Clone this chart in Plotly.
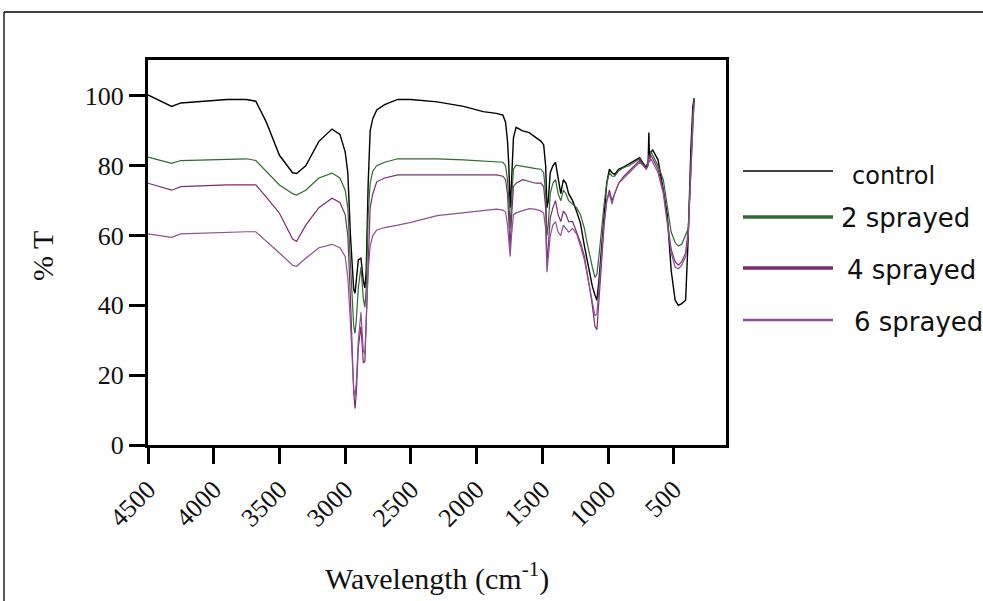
import plotly.graph_objects as go

# ---------------- data ----------------
wavenumber = [4500, 4400, 4320, 4250, 4100, 3900, 3750, 3680, 3600, 3500, 3400, 3370, 3300, 3200, 3100,
              3040, 3000, 2980, 2960, 2945, 2935, 2925, 2915, 2900, 2880, 2862, 2850, 2840, 2825, 2810,
              2790, 2760, 2700, 2600, 2500, 2300, 2100, 1950, 1850, 1800, 1780, 1765, 1755, 1745, 1735,
              1720, 1700, 1650, 1600, 1550, 1510, 1490, 1475, 1465, 1455, 1440, 1420, 1400, 1380, 1360,
              1340, 1320, 1300, 1270, 1240, 1210, 1180, 1160, 1140, 1120, 1100, 1085, 1070, 1050, 1030,
              1010, 990, 970, 950, 920, 880, 840, 800, 760, 730, 710, 695, 690, 685, 675, 660, 620, 580,
              550, 520, 490, 465, 440, 410, 390, 370, 355, 345]

control = [100.3, 98.5, 97, 98, 98.5, 99, 99, 98.5, 92.5, 83, 78, 77.8, 80, 87, 90.5,
           89, 84, 78, 60, 48, 44.5, 43.5, 47, 53, 53.5, 47, 45, 50, 75, 90,
           93.5, 96, 97.5, 99, 99, 98.3, 97, 95.5, 95, 94.5, 92.5, 87, 80, 68, 75,
           88, 91, 90, 89.5, 88, 87, 86, 80, 68, 70, 78, 80, 81, 76, 72,
           76, 75, 72, 70, 67, 63.5, 57, 53, 49, 45.5, 43, 41.5, 47, 56, 66,
           75, 79, 78, 77.5, 79, 79.7, 80.5, 81.5, 82.3, 80.5, 79.5, 81, 89.5, 82, 84, 84.5, 81.7, 73,
           66, 50, 41.5, 40, 40.5, 41.5, 60, 85, 97, 99.4]

sprayed_2 = [82.5, 81.5, 80.7, 81.5, 81.7, 82, 82, 81.5, 78.5, 74.5, 72, 71.6, 73, 76.5, 77.9,
             76.5, 73, 68, 52, 40, 34, 32, 36, 45, 51, 42, 39.5, 45, 66, 75,
             78.5, 80, 81, 82, 82, 82, 81.7, 81.3, 81.2, 81, 80, 76, 70, 62, 70,
             79, 80.2, 79.8, 79.5, 79.2, 79, 78, 72, 60, 63, 72, 75, 76, 72, 70,
             73, 72, 70, 69, 68, 66, 62, 58, 54, 51, 48, 49, 54, 62, 69,
             75, 78, 77, 77, 78.5, 79.5, 80, 81, 82, 80, 80, 81, 83, 82, 84, 83, 80, 76,
             68, 61, 58, 57, 57.5, 60, 62, 80, 95, 99]

sprayed_4 = [75, 74, 73, 74, 74.3, 74.5, 74.5, 74.5, 71, 66.4, 59, 58.3, 63, 68, 70.7,
             69.5, 66, 60, 42, 25, 15, 10.5, 15, 28, 34, 23.5, 24, 35, 55, 68,
             72, 75.4, 76.5, 77.4, 77.4, 77.4, 77.4, 77.4, 77.4, 77, 76, 72, 65, 56, 65,
             74, 75, 76, 75.5, 75, 75, 74, 68, 52, 57, 65, 68, 70, 66, 64,
             67, 66, 64, 64, 61, 58, 54, 50, 45, 40, 34, 33, 42, 54, 63,
             70, 73, 70, 72, 75, 77, 78.5, 80, 81.5, 80, 79, 80.5, 83, 82, 83, 82, 79, 73,
             64, 56, 52.5, 51.5, 52.5, 55, 62, 80, 94, 99]

sprayed_6 = [60.5, 60, 59.5, 60.5, 60.7, 61.1, 61.1, 61.1, 58.5, 55, 51.5, 51.2, 53.5, 56.5, 57.5,
             56.5, 54, 48, 35, 22, 16, 14, 18, 30, 38, 27, 26, 36, 50, 57,
             60, 61.6, 62.3, 63, 63.8, 65.7, 66.5, 67.2, 67.6, 67.3, 66.8, 63, 59, 54, 60,
             66, 66.5, 67, 67.7, 67.5, 67, 66.4, 62, 49.5, 54, 60, 63, 64, 61, 60,
             63, 62, 61, 62, 60.5, 57, 53, 49, 45, 41, 37, 37.5, 45, 56, 64,
             70, 72, 69, 72, 75, 76.5, 78, 79.5, 81, 80, 79, 80, 82, 81, 82, 81, 78, 72,
             63, 55, 51, 50.5, 51.5, 54, 60, 80, 93, 98]

series_names = ["control", "2 sprayed", "4 sprayed", "6 sprayed"]
series_values = [control, sprayed_2, sprayed_4, sprayed_6]

x_ticks = [4500, 4000, 3500, 3000, 2500, 2000, 1500, 1000, 500]
y_ticks = [0, 20, 40, 60, 80, 100]

# ---------------- styles ----------------
colors = ["#000000", "#2f6a2f", "#7a2c6c", "#8e4f94"]
widths = [1.4, 1.2, 1.2, 1.2]
legend_widths = [1.6, 3.4, 3.4, 2.4]

W, H = 983, 601
L, R, T, B = 148, 726, 60, 445   # plot area in pixels


def px(xp):
    return (xp - L) / (R - L)


def py(yp):
    return (B - yp) / (B - T)


fig = go.Figure()
for name, vals, c, w in zip(series_names, series_values, colors, widths):
    fig.add_trace(go.Scatter(x=wavenumber, y=vals, mode="lines", name=name,
                             line=dict(color=c, width=w), showlegend=False))

shapes = []
annotations = []

# custom legend
leg_line_y = [171, 217, 268, 320]
leg_text_x = [850, 839, 845, 852]
leg_text_y = [176, 218, 270, 322]
for i, name in enumerate(series_names):
    shapes.append(dict(type="line", xref="paper", yref="paper",
                       x0=px(743), x1=px(833), y0=py(leg_line_y[i]), y1=py(leg_line_y[i]),
                       line=dict(color=colors[i], width=legend_widths[i])))
    annotations.append(dict(text=name, xref="paper", yref="paper",
                            x=px(leg_text_x[i]), y=py(leg_text_y[i]),
                            xanchor="left", yanchor="middle", showarrow=False,
                            font=dict(family="DejaVu Sans", size=26 if i else 24, color="#111111")))

# outer frame
shapes.append(dict(type="line", xref="paper", yref="paper",
                   x0=px(4), x1=px(990), y0=py(12), y1=py(12),
                   line=dict(color="#000000", width=1.3)))
shapes.append(dict(type="line", xref="paper", yref="paper",
                   x0=px(4), x1=px(4), y0=py(12), y1=py(610),
                   line=dict(color="#000000", width=1.3)))

# axis titles
annotations.append(dict(text="Wavelength (cm<sup>-1</sup>)", xref="paper", yref="paper",
                        x=px(437), y=py(576), xanchor="center", yanchor="middle",
                        showarrow=False,
                        font=dict(family="Liberation Serif", size=30, color="#111111")))
annotations.append(dict(text="% T", xref="paper", yref="paper",
                        x=px(43), y=py(256), xanchor="center", yanchor="middle",
                        showarrow=False, textangle=-90,
                        font=dict(family="Liberation Serif", size=30, color="#111111")))

fig.update_layout(
    width=W, height=H,
    margin=dict(l=L, r=W - R, t=T, b=H - B),
    paper_bgcolor="white", plot_bgcolor="white",
    shapes=shapes, annotations=annotations,
    showlegend=False,
    xaxis=dict(range=[4500, 103], tickvals=x_ticks, ticktext=[str(v) for v in x_ticks],
               tickangle=-45, ticks="outside", ticklen=16, tickwidth=3, tickcolor="black",
               showline=True, linewidth=3, linecolor="black", mirror=True,
               showgrid=False, zeroline=False,
               tickfont=dict(family="Liberation Serif", size=26, color="#111111")),
    yaxis=dict(range=[0, 110.3], tickvals=y_ticks, ticks="outside", ticklen=16, tickwidth=3,
               tickcolor="black", showline=True, linewidth=3, linecolor="black", mirror=True,
               showgrid=False, zeroline=False,
               tickfont=dict(family="Liberation Serif", size=26, color="#111111")),
)

fig.write_html("out.html", config={"displayModeBar": False},
               post_script="document.body.style.margin='0';")
